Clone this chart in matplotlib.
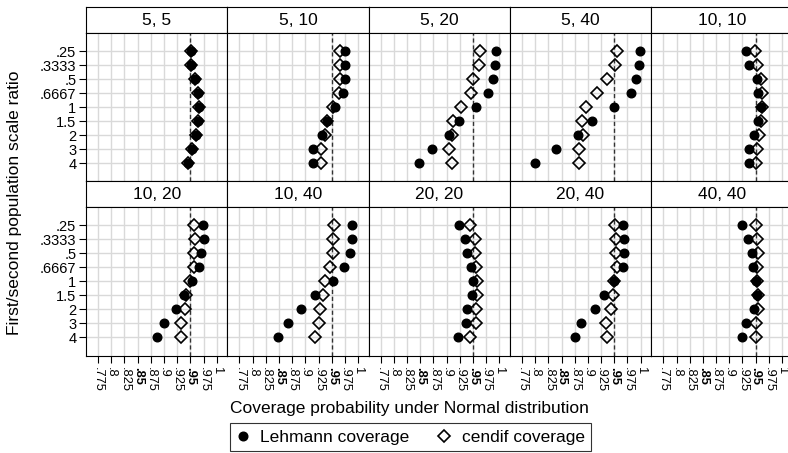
import numpy as np
import matplotlib
matplotlib.use("Agg")
import matplotlib.pyplot as plt

plt.rcParams['font.family'] = ['Liberation Sans', 'DejaVu Sans']

# sample size pairs (one panel each) and scale ratios (rows)
panel_titles = ['5, 5', '5, 10', '5, 20', '5, 40', '10, 10',
                '10, 20', '10, 40', '20, 20', '20, 40', '40, 40']
ratio_labels = ['.25', '.3333', '.5', '.6667', '1', '1.5', '2', '3', '4']

x_ticks = [.775, .8, .825, .85, .875, .9, .925, .95, .975, 1]
x_tick_labels = ['.775', '.8', '.825', '.85', '.875', '.9', '.925', '.95', '.975', '1']
bold_ticks = ['.85', '.95']
nominal = .95

# coverage per panel, rows in ratio order
lehmann = [
    [.951, .951, .959, .964, .967, .965, .961, .953, .946],
    [.976, .976, .975, .972, .957, .941, .932, .914, .914],
    [.994, .991, .987, .978, .955, .923, .904, .872, .848],
    [.999, .996, .992, .981, .949, .907, .881, .840, .800],
    [.931, .937, .953, .955, .960, .955, .947, .937, .937],
    [.973, .975, .970, .967, .953, .937, .922, .900, .886],
    [.989, .989, .984, .974, .953, .918, .891, .867, .848],
    [.924, .934, .939, .947, .950, .948, .939, .937, .922],
    [.966, .969, .968, .967, .949, .931, .913, .886, .875],
    [.925, .935, .944, .946, .951, .952, .947, .932, .925],
]
cendif = [
    [.951, .951, .959, .964, .967, .965, .961, .953, .946],
    [.966, .966, .966, .963, .952, .941, .937, .929, .929],
    [.963, .962, .950, .946, .927, .912, .910, .905, .911],
    [.955, .951, .936, .918, .897, .889, .891, .884, .883],
    [.948, .952, .961, .962, .962, .960, .956, .952, .951],
    [.956, .959, .957, .956, .950, .942, .939, .933, .932],
    [.955, .953, .952, .946, .938, .933, .927, .925, .918],
    [.945, .953, .953, .956, .957, .957, .955, .956, .945],
    [.951, .953, .953, .955, .949, .948, .943, .934, .936],
    [.951, .953, .954, .953, .952, .955, .954, .951, .951],
]

W, H = 788, 453
fig = plt.figure(figsize=(W / 100, H / 100), dpi=100)


def px_box(left, top, width, height):
    return [left / W, 1 - (top + height) / H, width / W, height / H]


col_left = 86
col_w = 141.3
strip_h = 25.8
plot_h = 148.3
row_top = [7.3, 181.4]

ypos = np.arange(len(ratio_labels))
handles = None

for i, title in enumerate(panel_titles):
    r, c = divmod(i, 5)
    left = col_left + c * col_w
    top = row_top[r]

    # strip with the sample sizes
    sax = fig.add_axes(px_box(left, top, col_w, strip_h))
    sax.set_xticks([])
    sax.set_yticks([])
    for sp in sax.spines.values():
        sp.set_linewidth(0.8)
    sax.text(0.5, 0.48, title, ha='center', va='center', fontsize=12.5,
             transform=sax.transAxes)

    ax = fig.add_axes(px_box(left, top + strip_h, col_w, plot_h))
    ax.set_xlim(0.752, 1.020)
    ax.set_ylim(len(ratio_labels) - 1 + 1.3, -1.3)
    ax.set_xticks(x_ticks)
    ax.set_yticks(ypos)
    ax.grid(True, color='#d9d9d9', lw=1.0)
    ax.set_axisbelow(True)
    for sp in ax.spines.values():
        sp.set_linewidth(0.8)
    ax.axvline(nominal, color='#333333', lw=1.0, ls=(0, (3, 2)), zorder=2)

    d, = ax.plot(cendif[i], ypos, ls='none', marker='D', ms=6.6,
                 mfc='none', mec='black', mew=1.2, zorder=3)
    l, = ax.plot(lehmann[i], ypos, ls='none', marker='o', ms=6.2,
                 mfc='black', mec='black', zorder=4)
    handles = [l, d]

    if c == 0:
        ax.set_yticklabels(ratio_labels, fontsize=10.5)
        ax.tick_params(axis='y', length=5, width=0.8, pad=2)
    else:
        ax.tick_params(axis='y', length=0, labelleft=False)

    if r == 1:
        ax.set_xticklabels(x_tick_labels, rotation=270, fontsize=9.3)
        ax.tick_params(axis='x', length=5, width=0.8, pad=3)
        for t in ax.get_xticklabels():
            if t.get_text() in bold_ticks:
                t.set_fontweight('bold')
    else:
        ax.tick_params(axis='x', length=0, labelbottom=False)

fig.text(15 / W, 1 - 203 / H, 'First/second population scale ratio',
         rotation=90, ha='center', va='center', fontsize=12.5)
fig.text(409 / W, 1 - 408 / H, 'Coverage probability under Normal distribution',
         ha='center', va='center', fontsize=12.5)

leg = fig.legend(handles, ['Lehmann coverage', 'cendif coverage'], ncol=2,
                 loc='center', bbox_to_anchor=(410.5 / W, 1 - 437 / H),
                 frameon=True, fancybox=False, edgecolor='black',
                 fontsize=12.5, handlelength=0.8, handletextpad=0.6,
                 columnspacing=1.6, borderpad=0.35, borderaxespad=0)
leg.get_frame().set_linewidth(0.8)

fig.savefig('out.png', dpi=100)
